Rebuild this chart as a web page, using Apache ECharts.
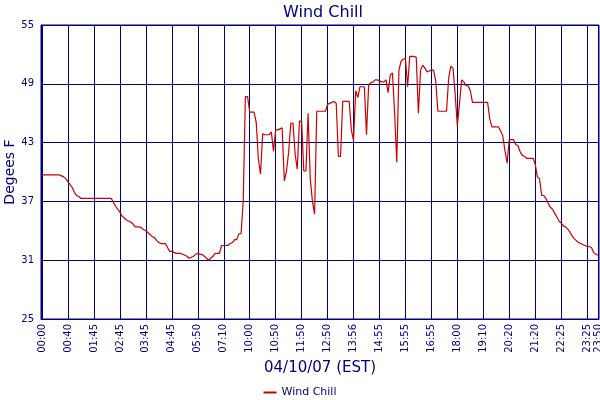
<!DOCTYPE html>
<html>
<head>
<meta charset="utf-8">
<title>Wind Chill</title>
<script src="https://cdn.jsdelivr.net/npm/echarts@6/dist/echarts.min.js"></script>
<style>
html, body { margin: 0; padding: 0; background: #fff; }
#chart { width: 600px; height: 400px; }
</style>
</head>
<body>
<div id="chart"></div>
<script>
// times shown on the x axis, one every 12 readings, plus the last reading
var tickTimes = ['00:00', '00:40', '01:45', '02:45', '03:45', '04:45', '05:50', '07:10',
    '10:00', '10:50', '11:50', '12:50', '13:56', '14:55', '15:55', '16:55',
    '18:00', '19:10', '20:20', '21:20', '22:25', '23:25'];
var lastTime = '23:50';
var tickStep = 12;

// y axis ticks (degrees F)
var yTicks = [25, 31, 37, 43, 49, 55];

// wind chill readings
var windChill = [
    39.7, 39.7, 39.7, 39.7, 39.7, 39.7, 39.7, 39.7, 39.7, 39.6, 39.5, 39.3,
    39.0, 38.7, 38.4, 37.9, 37.6, 37.5, 37.3, 37.3, 37.3, 37.3, 37.3, 37.3,
    37.3, 37.3, 37.3, 37.3, 37.3, 37.3, 37.3, 37.3, 37.3, 36.9, 36.5, 36.2,
    35.9, 35.5, 35.3, 35.1, 35.0, 34.9, 34.7, 34.4, 34.4, 34.4, 34.3, 34.1,
    34.0, 33.8, 33.6, 33.4, 33.3, 33.0, 32.8, 32.7, 32.7, 32.7, 32.3, 31.9,
    31.9, 31.8, 31.7, 31.7, 31.7, 31.6, 31.5, 31.4, 31.2, 31.3, 31.4, 31.6,
    31.7, 31.6, 31.6, 31.4, 31.2, 31.0, 31.2, 31.4, 31.7, 31.7, 31.7, 32.5,
    32.5, 32.5, 32.5, 32.7, 32.8, 33.1, 33.1, 33.7, 33.7, 37.0, 47.7, 47.7,
    46.1, 46.1, 46.1, 45.1, 41.3, 39.8, 43.9, 43.8, 43.8, 43.8, 44.1, 42.1,
    44.3, 44.3, 44.4, 44.5, 39.1, 40.1, 42.0, 45.0, 45.0, 41.8, 40.3, 45.2,
    45.2, 40.1, 40.1, 46.0, 39.3, 37.0, 35.7, 46.2, 46.2, 46.2, 46.2, 46.2,
    46.9, 47.0, 47.1, 47.2, 47.0, 41.6, 41.6, 47.2, 47.2, 47.2, 47.2, 44.3,
    43.2, 48.3, 47.6, 48.7, 48.7, 48.7, 43.8, 48.9, 49.1, 49.2, 49.4, 49.4,
    49.3, 49.2, 49.2, 49.4, 48.1, 49.9, 50.1, 46.0, 41.0, 50.4, 51.3, 51.5,
    51.6, 48.7, 51.8, 51.8, 51.8, 51.7, 46.0, 50.4, 50.9, 50.6, 50.2, 50.3,
    50.4, 50.4, 49.3, 46.2, 46.2, 46.2, 46.2, 46.2, 49.6, 50.8, 50.6, 47.9,
    44.7, 47.0, 49.4, 49.2, 48.8, 48.8, 48.3, 47.1, 47.1, 47.1, 47.1, 47.1,
    47.1, 47.1, 47.1, 45.4, 44.6, 44.6, 44.6, 44.6, 44.2, 43.7, 42.2, 40.9,
    43.3, 43.3, 43.3, 42.8, 42.7, 42.1, 41.7, 41.6, 41.4, 41.4, 41.4, 41.4,
    40.8, 39.5, 39.3, 37.6, 37.6, 37.3, 36.8, 36.4, 36.2, 35.8, 35.4, 35.0,
    34.8, 34.5, 34.4, 34.2, 33.9, 33.5, 33.2, 33.0, 32.8, 32.7, 32.6, 32.5,
    32.4, 32.4, 32.3, 31.8, 31.6, 31.5
];

var navy = '#000080';
var font = 'DejaVu Sans, Verdana, sans-serif';
var lastIdx = windChill.length - 1;
var yBase = yTicks[0];
var yStep = yTicks[1] - yTicks[0];

function toMin(t) { var p = t.split(':'); return +p[0] * 60 + +p[1]; }
function toTime(m) {
    m = Math.round(m);
    var h = Math.floor(m / 60), mm = m % 60;
    return (h < 10 ? '0' : '') + h + ':' + (mm < 10 ? '0' : '') + mm;
}

// one category per reading; times between the labelled ones are estimates
var anchors = tickTimes.map(function (t, k) { return [k * tickStep, toMin(t)]; });
anchors.push([lastIdx, toMin(lastTime)]);
var categories = [];
for (var i = 0; i <= lastIdx; i++) {
    var a = 0;
    while (a < anchors.length - 2 && anchors[a + 1][0] <= i) a++;
    var i0 = anchors[a][0], m0 = anchors[a][1], i1 = anchors[a + 1][0], m1 = anchors[a + 1][1];
    categories.push(toTime(m0 + (m1 - m0) * (i - i0) / (i1 - i0)));
}

function shown(idx) { return idx % tickStep === 0 || idx === lastIdx; }

var chart = echarts.init(document.getElementById('chart'));
chart.setOption({
    animation: false,
    backgroundColor: '#fff',
    title: {
        text: 'Wind Chill',
        left: 318,
        top: 0,
        textAlign: 'center',
        textStyle: { color: navy, fontFamily: font, fontSize: 16, fontWeight: 'normal' }
    },
    legend: {
        data: ['Wind Chill'],
        left: 'center',
        top: 382,
        icon: 'rect',
        itemWidth: 13,
        itemHeight: 2,
        itemGap: 4,
        textStyle: { color: navy, fontFamily: font, fontSize: 11 }
    },
    grid: {
        left: 41,
        right: 1,
        top: 25,
        bottom: 81,
        show: true,
        borderColor: navy,
        borderWidth: 1,
        containLabel: false,
        outerBoundsMode: 'none'
    },
    xAxis: {
        type: 'category',
        data: categories,
        boundaryGap: true,
        name: '04/10/07 (EST)',
        nameLocation: 'middle',
        nameGap: 41,
        nameTextStyle: { color: navy, fontFamily: font, fontSize: 15 },
        axisLine: { lineStyle: { color: navy, width: 1 } },
        axisTick: { show: false },
        axisLabel: {
            interval: shown,
            rotate: 90,
            margin: 5,
            color: navy,
            fontFamily: font,
            fontSize: 10
        },
        splitLine: {
            show: true,
            interval: shown,
            alignWithLabel: true,
            lineStyle: { color: navy, width: 1 }
        }
    },
    yAxis: {
        type: 'value',
        min: 0,
        max: yTicks[yTicks.length - 1] - yBase,
        interval: yStep,
        name: 'Degees F',
        nameLocation: 'middle',
        nameGap: 24,
        nameMoveOverlap: false,
        nameTextStyle: { color: navy, fontFamily: font, fontSize: 14 },
        axisLine: { show: true, lineStyle: { color: navy, width: 1 } },
        axisTick: { show: false },
        axisLabel: {
            margin: 7,
            color: navy,
            fontFamily: font,
            fontSize: 10,
            formatter: function (v) { return String(v + yBase); }
        },
        splitLine: { show: true, lineStyle: { color: navy, width: 1 } }
    },
    series: [{
        name: 'Wind Chill',
        type: 'line',
        data: windChill.map(function (v) { return +(v - yBase).toFixed(2); }),
        showSymbol: false,
        symbol: 'none',
        lineStyle: { color: '#cc0000', width: 1.2 },
        itemStyle: { color: '#cc0000' }
    }]
});
</script>
</body>
</html>
